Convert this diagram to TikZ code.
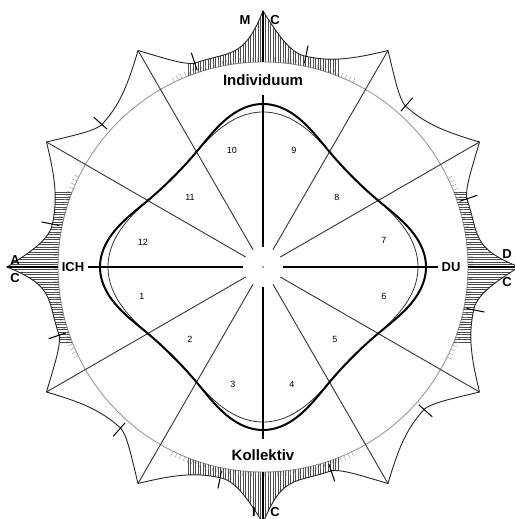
\documentclass[tikz,border=0pt]{standalone}
\usepackage{fontspec}
\setmainfont{Liberation Sans}

% courbe exterieure des maisons (pics aux cuspides, creux au point faible)
\newcommand\courbe{(180:256) \foreach \h [evaluate=\h as \ps using {mod(\h,3)==0?256:250},
    evaluate=\h as \pn using {mod(\h,3)==2?256:250},
    evaluate=\h as \pd using {mod(\h,3)==0?5:2.2},
    evaluate=\h as \pr using {mod(\h,3)==2?2:1.5}] in {0,...,11} {
    -- plot[domain=0:18.5, samples=38] ({180+30*\h+\x}:{215+(\ps-215)*pow(max(1-\x/18.5,0.001),\pd)})
    -- plot[domain=18.5:30, samples=24] ({180+30*\h+\x}:{215+(\pn-215)*pow(max((\x-18.5)/11.5,0.001),\pr)})
  } -- cycle}

\begin{document}
\begin{tikzpicture}[x=1pt, y=1pt,
    axe/.style={line width=2.8pt},
    rayon/.style={line width=0.9pt, black!80},
    hachure/.style={line width=0.5pt, black!70},
    bande/.style={line width=0.35pt, black!45},
    lib/.style={font=\bfseries\fontsize{15}{15}\selectfont},
    sig/.style={font=\bfseries\fontsize{13}{13}\selectfont},
    num/.style={font=\fontsize{9}{9}\selectfont}]
    \useasboundingbox (-263,-252) rectangle (251,267);

    % cercle de reference (gris)
    \draw[black!40, line width=0.9pt] (0,0) circle (205);

    % hachures entre cercle et courbe, pres des angles
    \begin{scope}[even odd rule]
        \clip \courbe;
        \clip (-300,-300) rectangle (300,300) (0,0) circle (205);
        \foreach \s in {-75,-72.5,...,75} {
            \draw[hachure] (\s,150) -- (\s,270);
            \draw[hachure] (\s,-150) -- (\s,-270);
            \draw[hachure] (150,\s) -- (270,\s);
            \draw[hachure] (-150,\s) -- (-270,\s);
        }
    \end{scope}

    % bande fine le long du cercle
    \foreach \a in {0,90,180,270} {
        \foreach \d in {-26,-24.8,...,26}
            \draw[bande] ({\a+\d}:205) -- ({\a+\d}:210);
    }

    % courbe exterieure
    \draw[line width=0.9pt, black!85] \courbe;

    % points faibles (petits traits)
    \foreach \h in {0,...,11}
        \draw[line width=1pt] ({198.5+30*\h}:208) -- ({198.5+30*\h}:226);

    % rayons des maisons
    \foreach \a in {30,60,120,150,210,240,300,330}
        \draw[rayon] (\a:20) -- (\a:250);

    % courbes interieures (fine puis grasse)
    \draw[line width=0.8pt, black!80] plot[domain=0:360, samples=361] (\x:{140.3+14*cos(4*\x)+0.7*cos(8*\x)}) -- cycle;
    \draw[line width=2pt] plot[domain=0:360, samples=361] (\x:{143+18*cos(4*\x)+2*cos(8*\x)}) -- cycle;

    % axes (traits gras)
    \foreach \a/\r in {0/175,90/172,180/175,270/172} {
        \draw[axe] (\a:20) -- (\a:\r);
        \draw[axe] (\a:205) -- (\a:256);
    }
    \fill[black!50] (0,0) circle (1.2);

    % libelles des axes
    \node[sig] (ich) at (-190,0) {ICH};
    \node[sig] (du) at (188,0) {DU};
    \node[lib] (indiv) at (0,187) {Individuum};
    \node[lib] (koll) at (0,-188) {Kollektiv};

    % lettres des angles
    \node[sig] (mcm) at (-18,247) {M};
    \node[sig] (mcc) at (12,247) {C};
    \node[sig] (ici) at (-9,-245) {I};
    \node[sig] (icc) at (12,-245) {C};
    \node[sig] (aca) at (-248,7) {A};
    \node[sig] (acc) at (-248,-11) {C};
    \node[sig] (dcd) at (244,13) {D};
    \node[sig] (dcc) at (244,-15) {C};

    % numeros des maisons
    \node[num] (m1) at (-121,-29) {1};
    \node[num] (m2) at (-73,-72) {2};
    \node[num] (m3) at (-30,-117) {3};
    \node[num] (m4) at (29,-117) {4};
    \node[num] (m5) at (72,-72) {5};
    \node[num] (m6) at (121,-29) {6};
    \node[num] (m7) at (121,27) {7};
    \node[num] (m8) at (74,70) {8};
    \node[num] (m9) at (31,117) {9};
    \node[num] (m10) at (-31,117) {10};
    \node[num] (m11) at (-73,70) {11};
    \node[num] (m12) at (-120,25) {12};

\end{tikzpicture}
\end{document}
